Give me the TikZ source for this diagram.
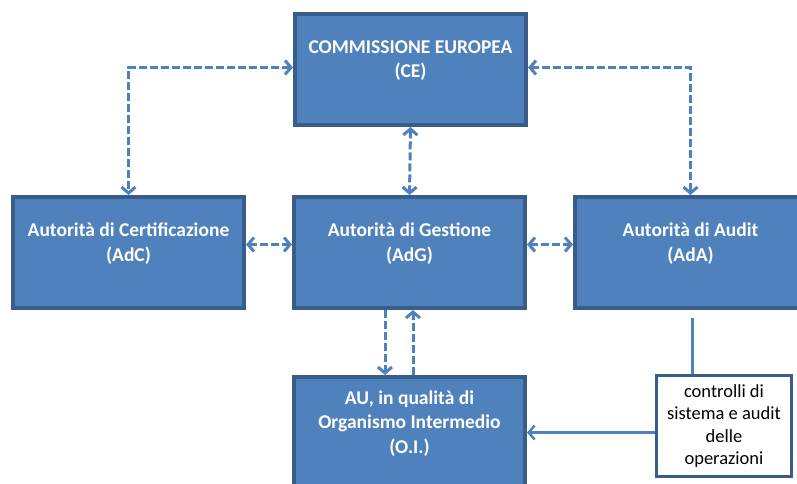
\documentclass[tikz,border=0pt]{standalone}
\usepackage{fontspec}
\setmainfont{Carlito}
\usetikzlibrary{arrows.meta}
\definecolor{boxfill}{HTML}{4F81BD}
\definecolor{boxline}{HTML}{385D8A}

\begin{document}
\begin{tikzpicture}[x=1pt, y=-1pt,
  main/.style={draw=boxline, fill=boxfill, rectangle, line width=4pt, minimum width=231pt, minimum height=111pt},
  txt/.style={text=white, align=center, font=\bfseries\fontsize{19.5}{24.5}\selectfont, yshift=9pt},
  info/.style={draw=boxline, fill=white, rectangle, line width=3.5pt, minimum width=135pt, minimum height=101pt, align=center, font=\fontsize{18.5}{22.5}\selectfont},
  d/.style={{Straight Barb[length=6pt, width=14pt]}-{Straight Barb[length=6pt, width=14pt]}, draw=boxfill, line width=3pt, dash pattern=on 8pt off 3pt},
  n/.style={-{Straight Barb[length=6pt, width=14pt]}, draw=boxfill, line width=3pt, dash pattern=on 8pt off 3pt},
  s/.style={draw=boxfill, line width=2.5pt}]
                \useasboundingbox (0,0) rectangle (797,483);
                \clip (0,0) rectangle (797,483);
                % nodes
                \node[main, label={[txt]center:COMMISSIONE EUROPEA\\(CE)}]                    (ce)   at (410.5,69.5) {};
                \node[main, label={[txt]center:Autorità di Certificazione\\(AdC)}]           (adc)  at (128.5,252.5) {};
                \node[main, label={[txt]center:Autorità di Gestione\\(AdG)}]                 (adg)  at (409.5,252.5) {};
                \node[main, label={[txt]center:Autorità di Audit\\(AdA)}]                    (ada)  at (690.5,252.5) {};
                \node[main, label={[txt]center:AU, in qualità di\\Organismo Intermedio\\(O.I.)}] (oi) at (409.5,432.5) {};
                \node[info]                                                                   (ctrl) at (724,426) {controlli di\\sistema e audit\\delle\\operazioni};
                \coordinate (tap) at ([xshift=2pt, yshift=-8pt]ada.south);
                % edges
                \draw [d] ([yshift=2pt]ce.west) -| (adc.north);
                \draw [d] ([yshift=2pt]ce.east) -| (ada.north);
                \draw [d] (ce.south) -- (adg.north);
                \draw [d] ([yshift=8pt]adc.east) -- ([yshift=8pt]adg.west);
                \draw [d] ([yshift=8pt]adg.east) -- ([yshift=8pt]ada.west);
                \draw [n] ([xshift=-24.5pt]adg.south) -- ([xshift=-24.5pt]oi.north);
                \draw [n] ([xshift=3.5pt]oi.north) -- ([xshift=3.5pt]adg.south);
                \draw [s] (tap) -- (tap |- ctrl.north);
                \draw [s, -{Straight Barb[length=6pt, width=14pt]}] (oi.east -| ctrl.west) -- (oi.east);
            \end{tikzpicture}
\end{document}
